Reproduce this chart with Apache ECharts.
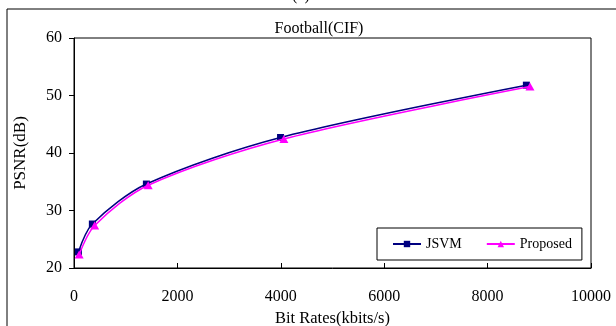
<!DOCTYPE html>
<html>
<head>
<meta charset="utf-8">
<script src="https://cdn.jsdelivr.net/npm/echarts@6/dist/echarts.min.js"></script>
<style>
  html, body { margin: 0; padding: 0; background: #fff; }
  #chart { width: 616px; height: 326px; }
</style>
</head>
<body>
<div id="chart"></div>
<script>
// Rate-distortion points: [bit rate (kbits/s), PSNR (dB)]
const jsvmPoints = [[85, 22.8], [355, 27.65], [1400, 34.6], [3995, 42.7], [8750, 51.8]];
const proposedPoints = [[100, 22.35], [400, 27.4], [1435, 34.4], [4060, 42.45], [8820, 51.55]];
const seriesNames = ['JSVM', 'Proposed'];
const chartTitle = 'Football(CIF)';
const xAxisTitle = 'Bit Rates(kbits/s)';
const yAxisTitle = 'PSNR(dB)';

const serif = '"Liberation Serif", "Times New Roman", serif';
const chart = echarts.init(document.getElementById('chart'), null, { renderer: 'canvas' });

chart.setOption({
  backgroundColor: '#fff',
  animation: false,
  title: {
    text: chartTitle,
    left: 314, top: 16, textAlign: 'center',
    textStyle: { fontFamily: serif, fontSize: 16, fontWeight: 'normal', color: '#000' }
  },
  graphic: [
    { type: 'rect', shape: { x: 7, y: 9, width: 640, height: 340 },
      style: { fill: 'none', stroke: '#000', lineWidth: 1 }, silent: true, z: -1 },
    { type: 'text', x: 301, y: 4,
      style: { text: '(c)', font: '16px ' + serif, fill: '#000', align: 'center', verticalAlign: 'bottom' } }
  ],
  legend: {
    left: 377, top: 228,
    padding: [9, 10, 9, 15],
    itemGap: 24,
    itemWidth: 28, itemHeight: 8,
    borderColor: '#000', borderWidth: 1,
    textStyle: { fontFamily: serif, fontSize: 14, color: '#000' },
    data: seriesNames
  },
  grid: {
    left: 74, right: 25, top: 38, bottom: 58,
    outerBoundsMode: 'none', containLabel: false,
    show: true, borderColor: '#000', borderWidth: 1, backgroundColor: 'transparent'
  },
  xAxis: {
    type: 'value', min: 0, max: 10000, interval: 2000,
    name: xAxisTitle, nameLocation: 'middle', nameGap: 38,
    nameTextStyle: { fontFamily: serif, fontSize: 16.5, color: '#000' },
    axisLine: { show: true, lineStyle: { color: '#000', width: 1 } },
    axisTick: { show: true, inside: true, length: 5, lineStyle: { color: '#000' } },
    axisLabel: { fontFamily: serif, fontSize: 16, color: '#000', margin: 21, formatter: v => String(v) },
    splitLine: { show: false }
  },
  yAxis: {
    type: 'value', min: 20, max: 60, interval: 10,
    name: yAxisTitle, nameLocation: 'middle', nameGap: 45, nameRotate: 90,
    nameTextStyle: { fontFamily: serif, fontSize: 17, color: '#000' },
    axisLine: { show: true, lineStyle: { color: '#000', width: 1 } },
    axisTick: { show: true, inside: false, length: 5, lineStyle: { color: '#000' } },
    axisLabel: { fontFamily: serif, fontSize: 16, color: '#000', margin: 12, formatter: v => String(v) },
    splitLine: { show: false }
  },
  series: [
    {
      name: seriesNames[0], type: 'line', data: jsvmPoints, smooth: 0.3,
      symbol: 'rect', symbolSize: 7,
      lineStyle: { color: '#000080', width: 1.5 },
      itemStyle: { color: '#000080' }, z: 2
    },
    {
      name: seriesNames[1], type: 'line', data: proposedPoints, smooth: 0.3,
      symbol: 'triangle', symbolSize: [9, 8],
      lineStyle: { color: '#ff00ff', width: 1.5 },
      itemStyle: { color: '#ff00ff' }, z: 3
    }
  ]
});
</script>
</body>
</html>
